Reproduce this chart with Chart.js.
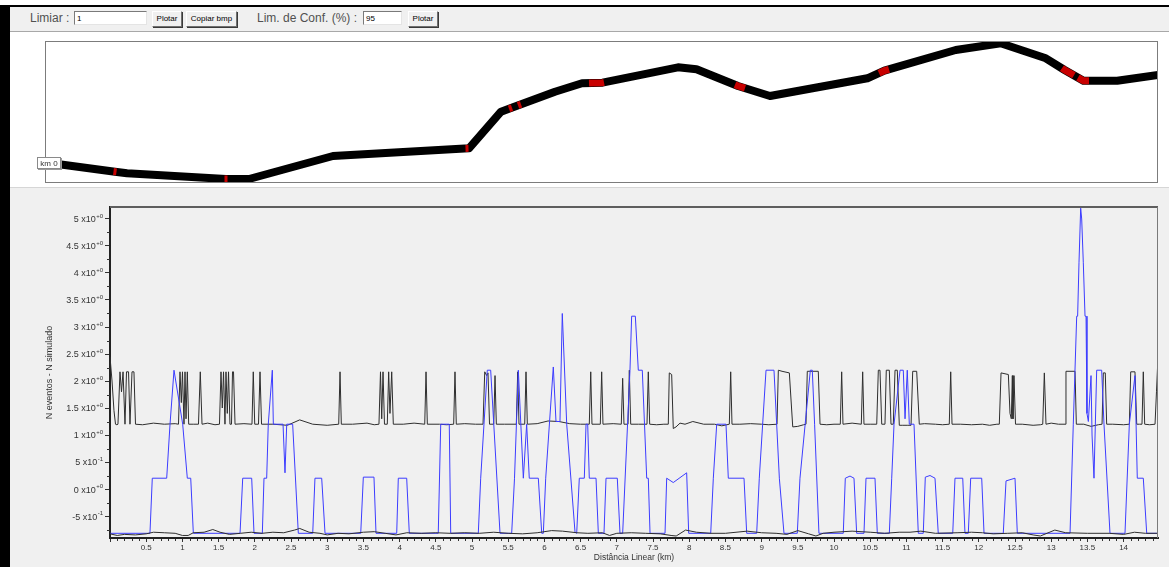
<!DOCTYPE html>
<html lang="pt">
<head>
<meta charset="utf-8">
<title>Eventos ao longo da via</title>
<script src="https://cdn.jsdelivr.net/npm/chart.js@4.4.1/dist/chart.umd.min.js"></script>
<style>
  html, body { margin: 0; padding: 0; }
  body { position: relative; width: 1169px; height: 567px; overflow: hidden; background: #fff;
         font-family: "Liberation Sans", Arial, sans-serif; }
  .abs { position: absolute; }
  #bar-top { left: 0; top: 5px; width: 1169px; height: 2px; background: #000; }
  #bar-left { left: 0; top: 5px; width: 10px; height: 562px; background: #000; }
  #toolbar { left: 10px; top: 7px; width: 1159px; height: 24px; background: #f0f0f0; border-bottom: 1px solid #a8a8a8; }
  .lbl { font-size: 12px; color: #505050; line-height: 14px; white-space: nowrap; }
  .inp { height: 14px; background: #fff; border: 1px solid; border-color: #7a7a7a #e4e4e4 #e4e4e4 #7a7a7a;
         font-size: 8px; line-height: 14px; padding-left: 2px; box-sizing: border-box; color: #000; }
  .btn { height: 16px; background: #f0f0f0; border: 1px solid; border-color: #fff #707070 #707070 #fff;
         box-shadow: 1px 1px 0 #3a3a3a; font-size: 8px; line-height: 14px; text-align: center; color: #000; box-sizing: border-box; }
  #map-panel { left: 10px; top: 32px; width: 1159px; height: 155px; background: #fff; border-bottom: 1px solid #d6d6d6; }
  #graph-panel { left: 10px; top: 188px; width: 1159px; height: 379px; background: #f0f0f0; }
  canvas { position: absolute; left: 0; top: 0; }
</style>
</head>
<body>
<div id="bar-top" class="abs"></div>
<div id="toolbar" class="abs"></div>
<div id="bar-left" class="abs"></div>

<div class="abs lbl" style="left:30px;top:11px;">Limiar :</div>
<div class="abs inp" style="left:74px;top:11px;width:73px;">1</div>
<div class="abs btn" style="left:152px;top:11px;width:30px;">Plotar</div>
<div class="abs btn" style="left:186px;top:11px;width:51px;">Copiar bmp</div>
<div class="abs lbl" style="left:257px;top:11px;">Lim. de Conf. (%) :</div>
<div class="abs inp" style="left:363px;top:11px;width:39px;">95</div>
<div class="abs btn" style="left:408px;top:11px;width:30px;">Plotar</div>

<div id="map-panel" class="abs"><canvas id="mapa" width="1159" height="155"></canvas></div>
<div id="graph-panel" class="abs"><canvas id="grafico" width="1159" height="379"></canvas></div>

<script>
// ---- Traçado da via (coordenadas locais em metros) ----
const routeEast  = [160, 700, 820, 1810, 2040, 2880, 4240, 4560, 4680, 5100, 5370, 5575, 6330, 6515,
                    6930, 7250, 8224, 8393, 9107, 9557, 10008, 10196, 10384, 10722, 11130];
const routeNorth = [185, 113, 97, 40, 40, 270, 347, 713, 757, 913, 997, 1003, 1157, 1137,
                    970, 870, 1047, 1123, 1330, 1397, 1247, 1130, 1023, 1023, 1080];

// trechos críticos marcados em vermelho sobre o traçado
const hotspotSegments = [
  [[685, 115], [715, 111]],
  [[1795, 40], [1825, 40]],
  [[4205, 346], [4235, 347]],
  [[4640, 742], [4670, 753]],
  [[4730, 776], [4760, 787]],
  [[5440, 999], [5575, 1003], [5590, 1006]],
  [[6900, 982], [6930, 970], [7000, 948]],
  [[8340, 1099], [8393, 1123], [8440, 1137]],
  [[10170, 1149], [10196, 1130], [10290, 1077]],
  [[10330, 1054], [10384, 1023], [10440, 1023]]
];

// ---- Séries por distância linear (km, valor) ----
const observedDiff = [
  [0, -0.82], [0.552, -0.82], [0.584, 0.2], [0.783, 0.2], [0.829, 1.2], [0.884, 2.2], [1.004, 1.2], [1.068, 0.2], [1.115, 0.2], [1.151, -0.82],
  [1.796, -0.82], [1.833, 0.2], [1.957, 0.2], [1.989, -0.82],
  [2.104, -0.82], [2.127, 0.2], [2.164, 0.2], [2.186, 1.2], [2.242, 2.2], [2.256, 1.2], [2.390, 1.2], [2.417, 0.3], [2.441, 1.2], [2.523, 1.2], [2.601, -0.82],
  [2.800, -0.82], [2.831, 0.2], [2.924, 0.2], [2.970, -0.82],
  [3.463, -0.82], [3.499, 0.22], [3.646, 0.22], [3.674, -0.82],
  [3.960, -0.82], [3.982, 0.2], [4.098, 0.2], [4.134, -0.82],
  [4.534, -0.82], [4.568, 1.2], [4.686, 1.2], [4.706, -0.82],
  [5.087, -0.82], [5.120, 0.2], [5.211, 2.2], [5.258, 2.2], [5.387, -0.82],
  [5.548, -0.82], [5.587, 0.2], [5.640, 2.2], [5.709, 0.2], [5.755, 1.2], [5.791, 0.2], [5.916, 0.2], [5.963, -0.82],
  [5.985, -0.82], [6.018, 0.2], [6.123, 2.26], [6.160, 1.25], [6.215, 1.25], [6.247, 3.25], [6.308, 1.2], [6.423, -0.8],
  [6.446, -0.82], [6.482, 0.2], [6.551, 0.2], [6.575, 1.2], [6.598, 1.2], [6.620, 0.2], [6.713, 0.2], [6.745, -0.82],
  [6.823, -0.82], [6.851, 0.2], [7.007, 0.2], [7.044, -0.82],
  [7.081, -0.82], [7.182, 2.2], [7.205, 3.2], [7.256, 3.2], [7.297, 2.2], [7.352, 2.2], [7.413, 0.2], [7.435, 0.2], [7.459, -0.82],
  [7.666, -0.82], [7.689, 0.2], [7.780, 0.12], [7.965, 0.3], [7.993, -0.82],
  [8.297, -0.82], [8.333, 0.2], [8.380, 1.2], [8.508, 1.2], [8.540, 0.2], [8.757, 0.2], [8.794, -0.82],
  [8.932, -0.82], [8.968, 0.2], [9.061, 2.2], [9.171, 2.2], [9.245, 0.2], [9.309, -0.82],
  [9.493, -0.82], [9.530, 0.2], [9.673, 2.2], [9.700, 2.2], [9.732, 1.2], [9.792, -0.82],
  [10.128, -0.82], [10.156, 0.2], [10.221, 0.24], [10.276, 0.2], [10.313, -0.82],
  [10.414, -0.82], [10.442, 0.2], [10.566, 0.2], [10.598, -0.82],
  [10.764, -0.82], [10.797, 0.2], [10.829, 1.2], [10.912, 2.2], [10.957, 2.2], [10.981, 1.3], [11.012, 2.2], [11.040, 1.2], [11.105, 1.2], [11.164, -0.82],
  [11.233, -0.82], [11.261, 0.22], [11.326, 0.25], [11.395, 0.2], [11.440, -0.82],
  [11.640, -0.82], [11.671, 0.2], [11.778, 0.2], [11.809, -0.82],
  [11.855, -0.82], [11.888, 0.2], [12.040, 0.2], [12.072, -0.82],
  [12.338, -0.82], [12.376, 0.15], [12.500, 0.2], [12.532, -0.82],
  [13.260, -0.82], [13.305, 1.2], [13.352, 3.2], [13.365, 3.2], [13.384, 4.2], [13.407, 5.2], [13.421, 5.0], [13.443, 4.2], [13.467, 3.2], [13.481, 3.2],
  [13.494, 1.4], [13.513, 1.25], [13.550, 2.1], [13.564, 1.0], [13.591, 0.2], [13.628, 2.2], [13.697, 2.2], [13.729, 1.2], [13.812, -0.82],
  [14.019, -0.82], [14.079, 1.2], [14.157, 2.1], [14.189, 0.2], [14.272, 0.2], [14.319, -0.82],
  [14.475, -0.82]
];

const upperLimit = [
  [0, 2.45], [0.028, 2.0], [0.055, 1.45], [0.076, 1.2], [0.095, 1.19],
  [0.110, 1.2], [0.138, 2.17], [0.159, 1.8], [0.180, 2.17], [0.207, 1.2], [0.228, 2.17], [0.256, 2.17], [0.276, 1.2], [0.304, 2.17], [0.331, 2.17], [0.352, 1.2],
  [0.45, 1.19], [0.6, 1.22], [0.75, 1.2], [0.9, 1.21],
  [0.946, 1.2], [0.967, 2.17], [0.985, 1.6], [1.001, 2.17], [1.022, 1.2], [1.036, 2.17], [1.050, 1.3], [1.068, 2.17], [1.087, 1.2],
  [1.15, 1.2], [1.222, 1.2], [1.247, 2.17], [1.271, 1.2], [1.35, 1.22], [1.45, 1.19],
  [1.512, 1.2], [1.533, 2.17], [1.551, 1.5], [1.568, 2.17], [1.588, 1.2], [1.602, 2.17], [1.620, 1.4], [1.637, 2.17], [1.657, 1.2],
  [1.678, 1.2], [1.692, 2.17], [1.706, 2.17], [1.727, 1.2],
  [1.85, 1.21], [1.961, 1.2], [1.979, 2.17], [1.999, 1.2], [2.051, 1.2], [2.072, 2.17], [2.093, 1.2],
  [2.25, 1.2], [2.45, 1.18], [2.62, 1.28], [2.8, 1.2], [3.0, 1.18],
  [3.159, 1.2], [3.177, 2.17], [3.195, 1.2], [3.35, 1.2], [3.55, 1.22], [3.65, 1.19],
  [3.715, 1.2], [3.736, 2.17], [3.753, 1.3], [3.771, 2.17], [3.791, 1.2], [3.830, 1.2], [3.849, 2.17], [3.867, 1.4], [3.891, 2.17], [3.913, 1.2],
  [4.05, 1.2], [4.2, 1.22], [4.347, 1.2], [4.365, 2.17], [4.383, 1.2], [4.55, 1.2], [4.65, 1.19],
  [4.747, 1.2], [4.765, 2.17], [4.783, 1.2], [4.9, 1.21], [5.05, 1.2],
  [5.152, 1.2], [5.176, 2.17], [5.203, 2.1], [5.221, 2.15], [5.242, 1.2], [5.300, 1.2], [5.318, 2.1], [5.336, 1.2], [5.45, 1.2],
  [5.612, 1.2], [5.631, 2.17], [5.649, 1.2], [5.728, 1.2], [5.746, 2.17], [5.764, 1.2],
  [5.9, 1.21], [6.05, 1.26], [6.2, 1.25], [6.35, 1.21], [6.5, 1.2],
  [6.620, 1.2], [6.640, 2.17], [6.657, 1.2], [6.772, 1.2], [6.791, 2.17], [6.809, 1.2], [6.95, 1.21],
  [7.062, 1.2], [7.081, 2.05], [7.099, 1.2], [7.155, 1.2], [7.173, 2.2], [7.192, 1.2], [7.3, 1.2],
  [7.417, 1.2], [7.435, 2.17], [7.454, 1.2], [7.55, 1.19], [7.65, 1.2],
  [7.711, 1.2], [7.725, 2.15], [7.758, 2.12], [7.780, 1.12], [7.818, 1.15], [7.873, 1.22], [7.942, 1.2],
  [8.05, 1.25], [8.2, 1.2], [8.35, 1.2], [8.45, 1.17],
  [8.554, 1.2], [8.573, 2.17], [8.591, 1.2], [8.7, 1.2], [8.85, 1.21], [9.0, 1.2], [9.1, 1.19],
  [9.213, 1.2], [9.231, 2.2], [9.282, 2.18], [9.383, 2.15], [9.430, 1.15], [9.5, 1.16], [9.58, 1.19],
  [9.613, 1.2], [9.631, 2.18], [9.783, 2.18], [9.807, 1.2], [9.9, 1.19], [10.0, 1.2],
  [10.087, 1.2], [10.106, 2.17], [10.124, 1.2], [10.25, 1.22], [10.377, 1.2], [10.396, 2.17], [10.414, 1.2], [10.5, 1.2],
  [10.590, 1.2], [10.612, 2.2], [10.635, 2.2], [10.659, 1.2], [10.704, 1.2], [10.722, 2.2], [10.764, 2.2], [10.787, 1.2],
  [10.819, 1.2], [10.843, 2.2], [10.874, 2.2], [10.902, 1.18], [10.95, 1.18], [11.02, 1.18],
  [11.064, 1.18], [11.087, 2.18], [11.142, 2.18], [11.178, 1.2], [11.25, 1.21], [11.4, 1.2], [11.5, 1.19],
  [11.592, 1.2], [11.612, 2.17], [11.630, 1.2], [11.75, 1.2], [11.9, 1.19], [12.05, 1.2], [12.15, 1.18], [12.25, 1.2],
  [12.283, 1.2], [12.307, 2.15], [12.408, 2.12], [12.431, 1.4], [12.449, 1.3], [12.463, 2.1], [12.472, 1.3], [12.486, 2.1], [12.507, 1.2],
  [12.6, 1.2], [12.75, 1.18], [12.85, 1.19], [12.883, 1.2], [12.905, 2.15], [12.928, 1.2], [13.0, 1.22], [13.1, 1.2],
  [13.191, 1.2], [13.204, 2.18], [13.329, 2.18], [13.347, 1.2], [13.45, 1.2], [13.55, 1.16], [13.65, 1.19],
  [13.702, 1.2], [13.720, 2.15], [13.747, 2.15], [13.766, 1.2], [13.85, 1.2], [14.0, 1.19],
  [14.079, 1.2], [14.098, 2.17], [14.157, 2.17], [14.181, 1.2], [14.22, 1.2], [14.254, 1.2], [14.272, 2.17], [14.291, 1.2],
  [14.36, 1.19], [14.434, 1.2], [14.454, 1.8], [14.475, 2.45]
];

const lowerLimit = [
  [0, -0.83], [0.1, -0.86], [0.2, -0.84], [0.35, -0.85], [0.5, -0.83], [0.6, -0.8], [0.75, -0.81], [0.9, -0.82], [1.0, -0.86], [1.08, -0.86],
  [1.15, -0.81], [1.3, -0.8], [1.42, -0.75], [1.52, -0.8], [1.65, -0.84], [1.8, -0.82], [1.95, -0.8], [2.1, -0.82], [2.25, -0.8], [2.4, -0.81],
  [2.55, -0.76], [2.62, -0.73], [2.75, -0.8], [2.9, -0.82], [3.0, -0.85], [3.15, -0.82], [3.3, -0.83], [3.5, -0.8], [3.65, -0.79], [3.8, -0.82],
  [3.95, -0.85], [4.1, -0.81], [4.3, -0.82], [4.5, -0.81], [4.7, -0.82], [4.9, -0.81], [5.1, -0.82], [5.3, -0.8], [5.5, -0.82], [5.7, -0.83],
  [5.9, -0.81], [6.1, -0.77], [6.25, -0.78], [6.45, -0.81], [6.6, -0.82], [6.8, -0.81], [6.9, -0.86], [7.0, -0.82], [7.2, -0.81], [7.4, -0.82],
  [7.6, -0.83], [7.75, -0.86], [7.82, -0.87], [7.95, -0.76], [8.1, -0.8], [8.3, -0.82], [8.5, -0.82], [8.8, -0.78], [9.0, -0.81], [9.2, -0.82],
  [9.35, -0.84], [9.5, -0.77], [9.65, -0.83], [9.75, -0.87], [9.85, -0.82], [10.0, -0.8], [10.25, -0.78], [10.5, -0.8], [10.7, -0.82], [10.9, -0.8],
  [11.05, -0.8], [11.2, -0.78], [11.4, -0.82], [11.7, -0.81], [11.9, -0.8], [12.05, -0.81], [12.2, -0.83], [12.4, -0.82], [12.6, -0.81], [12.75, -0.85],
  [12.85, -0.87], [13.05, -0.76], [13.2, -0.81], [13.5, -0.82], [13.8, -0.82], [14.0, -0.84], [14.15, -0.8], [14.3, -0.82], [14.475, -0.82]
];

// ---- Eixos ----
const distRange = [0, 14.475];
const diffRange = [-0.907, 5.222];
const distStep = 0.5;
const diffStep = 0.5;
const startLabel = 'km 0';

const FONT = '"Liberation Sans", Arial, sans-serif';
Chart.defaults.font.family = FONT;

const toXY = pts => pts.map(([x, y]) => ({ x, y }));

// ---- Mapa do traçado ----
const mapDecor = {
  id: 'mapDecor',
  afterDatasetsDraw(chart) {
    const { ctx, chartArea: a, scales } = chart;
    ctx.save();
    ctx.strokeStyle = '#7c7c7c';
    ctx.lineWidth = 1;
    ctx.strokeRect(Math.round(a.left) + 0.5, Math.round(a.top) + 0.5,
                   Math.round(a.right - a.left) - 1, Math.round(a.bottom - a.top) - 1);
    // etiqueta do início do trecho
    const px = scales.x.getPixelForValue(routeEast[0]);
    const py = scales.y.getPixelForValue(routeNorth[0]);
    const w = 24, h = 12;
    const x0 = Math.round(px - w), y0 = Math.round(py - 8);
    ctx.fillStyle = '#9a9a9a';
    ctx.fillRect(x0 + 1, y0 + 1, w, h);
    ctx.fillStyle = '#fff';
    ctx.fillRect(x0, y0, w, h);
    ctx.strokeStyle = '#8a8a8a';
    ctx.strokeRect(x0 + 0.5, y0 + 0.5, w - 1, h - 1);
    ctx.fillStyle = '#333';
    ctx.font = '8px ' + FONT;
    ctx.textAlign = 'center';
    ctx.textBaseline = 'middle';
    ctx.fillText(startLabel, x0 + w / 2, y0 + h / 2 + 0.5);
    ctx.restore();
  }
};

new Chart(document.getElementById('mapa'), {
  type: 'scatter',
  data: {
    datasets: [
      {
        data: routeEast.map((e, i) => ({ x: e, y: routeNorth[i] })),
        showLine: true, borderColor: '#000', borderWidth: 8, pointRadius: 0,
        borderJoinStyle: 'round', borderCapStyle: 'butt', order: 2
      },
      ...hotspotSegments.map(seg => ({
        data: toXY(seg), showLine: true, borderColor: '#c80000', borderWidth: 7, pointRadius: 0,
        borderJoinStyle: 'round', borderCapStyle: 'butt', order: 1
      }))
    ]
  },
  options: {
    animation: false, responsive: false, devicePixelRatio: 1, events: [],
    layout: { padding: { left: 35, right: 11, top: 9, bottom: 4 } },
    plugins: { legend: { display: false }, tooltip: { enabled: false } },
    scales: {
      x: { type: 'linear', display: false, min: 0, max: 11130 },
      y: { type: 'linear', display: false, min: 0, max: 1420 }
    }
  },
  plugins: [mapDecor]
});

// ---- Gráfico de diferenças ----
function sciParts(v) {
  if (Math.abs(v) < 1e-9) return ['0 x10', '+0'];
  const e = Math.floor(Math.log10(Math.abs(v)) + 1e-9);
  const m = Math.round(v / Math.pow(10, e) * 10) / 10;
  return [m + ' x10', (e >= 0 ? '+' : '-') + Math.abs(e)];
}

const axisDecor = {
  id: 'axisDecor',
  afterDraw(chart) {
    const { ctx, chartArea: a, scales: { x, y } } = chart;
    ctx.save();
    // moldura superior e direita
    ctx.strokeStyle = '#5e5e5e';
    ctx.lineWidth = 2;
    ctx.beginPath();
    ctx.moveTo(a.left, Math.round(a.top));
    ctx.lineTo(a.right, Math.round(a.top));
    ctx.stroke();
    ctx.strokeStyle = '#7a7a7a';
    ctx.lineWidth = 1;
    ctx.beginPath();
    ctx.moveTo(Math.round(a.right) - 0.5, a.top);
    ctx.lineTo(Math.round(a.right) - 0.5, a.bottom);
    ctx.stroke();

    // marcas secundárias
    ctx.strokeStyle = '#333';
    ctx.lineWidth = 1;
    ctx.beginPath();
    for (let k = 1; k * 0.1 < distRange[1]; k++) {
      if (k % 5 === 0) continue;
      const px = Math.round(x.getPixelForValue(k * 0.1)) + 0.5;
      ctx.moveTo(px, a.bottom + 1);
      ctx.lineTo(px, a.bottom + 3);
    }
    for (let v = -0.75; v < diffRange[1]; v += 0.5) {
      const py = Math.round(y.getPixelForValue(v)) + 0.5;
      ctx.moveTo(a.left - 3, py);
      ctx.lineTo(a.left, py);
    }
    ctx.stroke();

    // rótulos do eixo vertical em notação científica
    ctx.fillStyle = '#333';
    ctx.textBaseline = 'middle';
    ctx.textAlign = 'right';
    const right = a.left - 7;
    y.ticks.forEach(t => {
      const py = y.getPixelForValue(t.value);
      const [mant, expo] = sciParts(t.value);
      ctx.font = '6px ' + FONT;
      const ew = ctx.measureText(expo).width;
      ctx.fillText(expo, right, py - 3);
      ctx.font = '9px ' + FONT;
      ctx.fillText(mant, right - ew - 0.5, py + 1);
    });
    ctx.restore();
  }
};

new Chart(document.getElementById('grafico'), {
  type: 'scatter',
  data: {
    datasets: [
      { label: 'Limite inferior', data: toXY(lowerLimit), showLine: true, borderColor: '#2e2e2e',
        borderWidth: 1, pointRadius: 0, order: 0 },
      { label: 'N eventos - N simulado', data: toXY(observedDiff), showLine: true, borderColor: '#3c3cff',
        borderWidth: 1, pointRadius: 0, order: 1 },
      { label: 'Limite superior', data: toXY(upperLimit), showLine: true, borderColor: '#2e2e2e',
        borderWidth: 1, pointRadius: 0, order: 2 }
    ]
  },
  options: {
    animation: false, responsive: false, devicePixelRatio: 1, events: [],
    layout: { padding: { left: 0, right: 11, top: 19, bottom: 0 } },
    plugins: { legend: { display: false }, tooltip: { enabled: false } },
    scales: {
      x: {
        type: 'linear', min: distRange[0], max: distRange[1],
        afterFit: s => { s.height = 29; },
        ticks: {
          stepSize: distStep, includeBounds: false, autoSkip: false, maxRotation: 0, padding: 1,
          color: '#333', font: { size: 8 },
          callback: v => (v === 0 ? '' : String(v))
        },
        grid: { drawOnChartArea: false, drawTicks: true, tickLength: 4, tickColor: '#333' },
        border: { display: true, color: '#222', width: 2 },
        title: { display: true, text: 'Distância Linear (km)', color: '#333', font: { size: 8.5 },
                 padding: { top: 0, bottom: 4 } }
      },
      y: {
        type: 'linear', min: diffRange[0], max: diffRange[1],
        afterFit: s => { s.width = 100; },
        ticks: { stepSize: diffStep, includeBounds: false, display: false },
        grid: { drawOnChartArea: false, drawTicks: true, tickLength: 5, tickColor: '#333' },
        border: { display: true, color: '#222', width: 2 },
        title: { display: true, text: 'N eventos - N simulado', color: '#333', font: { size: 9 },
                 padding: { top: 34, bottom: 0 } }
      }
    }
  },
  plugins: [axisDecor]
});
</script>
</body>
</html>
